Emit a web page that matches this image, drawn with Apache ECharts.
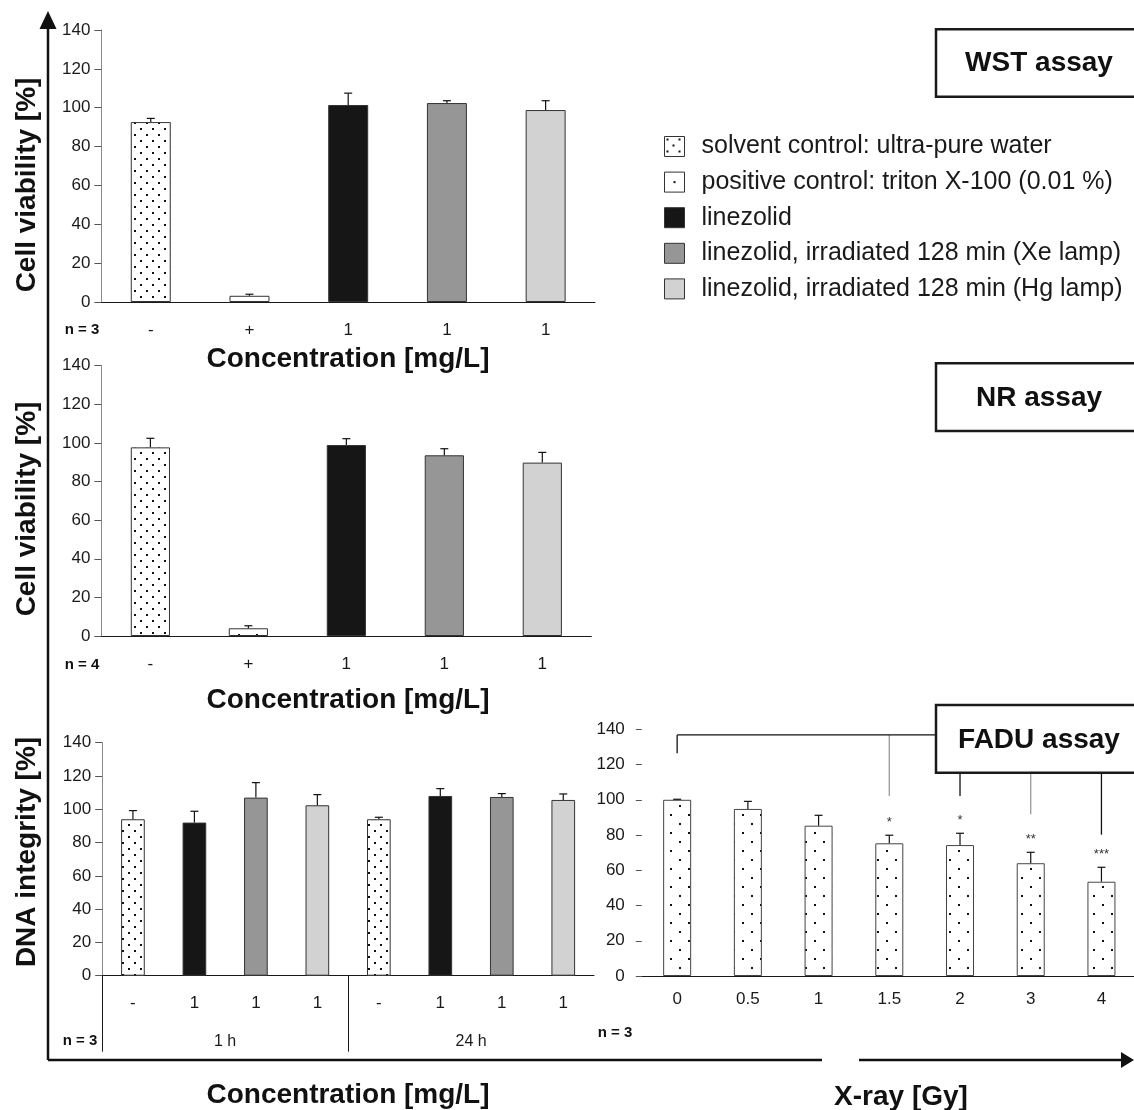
<!DOCTYPE html>
<html>
<head>
<meta charset="utf-8">
<script src="https://cdn.jsdelivr.net/npm/echarts@6/dist/echarts.min.js"></script>
<style>
html, body { margin: 0; padding: 0; background: #fff; }
#chart { width: 1134px; height: 1110px; }
</style>
</head>
<body>
<div id="chart"></div>
<script>
// legend groups
var groupNames = [
  'solvent control: ultra-pure water',
  'positive control: triton X-100 (0.01 %)',
  'linezolid',
  'linezolid, irradiated 128 min (Xe lamp)',
  'linezolid, irradiated 128 min (Hg lamp)'
];

// WST assay
var wstLabels = ['-', '+', '1', '1', '1'];
var wstGroup = [0, 1, 2, 3, 4];
var wstMean = [92.6, 3.2, 101.4, 102.4, 98.8];
var wstSd = [1.9, 0.8, 6.1, 1.2, 4.8];

// NR assay
var nrLabels = ['-', '+', '1', '1', '1'];
var nrGroup = [0, 1, 2, 3, 4];
var nrMean = [97.7, 4.0, 98.9, 93.6, 89.8];
var nrSd = [4.7, 1.3, 3.3, 3.4, 5.3];

// FADU assay, linezolid
var faduLabels = ['-', '1', '1', '1', '-', '1', '1', '1'];
var faduGroup = [0, 2, 3, 4, 0, 2, 3, 4];
var faduMean = [94.0, 92.0, 107.0, 102.4, 94.0, 108.0, 107.4, 105.6];
var faduSd = [5.2, 6.8, 9.0, 6.4, 1.2, 4.4, 2.0, 3.6];
var timeLabels = ['1 h', '24 h'];
var timeSpan = [[0, 4], [4, 8]];

// FADU assay, X-ray
var doseLabels = ['0', '0.5', '1', '1.5', '2', '3', '4'];
var doseMean = [100, 94.8, 85.3, 75.3, 74.3, 64.0, 53.5];
var doseSd = [0.3, 4.3, 5.9, 4.6, 6.7, 6.2, 8.2];
var doseStars = ['', '', '', '*', '*', '**', '***'];
var bracketLevel = 136.8;
var bracketDrops = [[0, 126.4], [3, 102.2], [4, 102.2], [5, 91.8], [6, 80.2]];
var bracketColors = ['#111', '#9a9a9a', '#111', '#9a9a9a', '#111'];

var FONT = '"Liberation Sans", Arial, Helvetica, sans-serif';
var INK = '#1a1a1a';

function dots(tile, pts) {
  var c = document.createElement('canvas');
  c.width = tile; c.height = tile;
  var g = c.getContext('2d');
  g.fillStyle = '#fff';
  g.fillRect(0, 0, tile, tile);
  g.fillStyle = '#111';
  pts.forEach(function (p) { g.fillRect(p[0], p[1], 2, 2); });
  return c;
}
var dense = { image: dots(12, [[2, 2], [8, 8]]), repeat: 'repeat' };
var sparse = { image: dots(18, [[4, 4], [13, 13]]), repeat: 'repeat' };
var single = { image: dots(20, [[9, 9]]), repeat: 'repeat' };
var fills = [dense, sparse, '#161616', '#969696', '#d2d2d2'];

var chart = echarts.init(document.getElementById('chart'));

function catAxis(grid, labels, tickLen, margin) {
  return {
    type: 'category', gridIndex: grid, data: labels,
    axisLine: { lineStyle: { color: INK, width: 1 } },
    axisTick: { length: tickLen, lineStyle: { color: INK } },
    axisLabel: { color: INK, fontSize: 17, fontFamily: FONT, margin: margin, interval: 0 },
    splitLine: { show: false }
  };
}

function valAxis(grid, showLine, margin, tickLen) {
  return {
    type: 'value', gridIndex: grid, min: 0, max: 140, interval: 20,
    axisLine: { show: showLine, lineStyle: { color: '#8a8a8a' } },
    axisTick: { show: true, length: tickLen, lineStyle: { color: '#555' } },
    axisLabel: { color: INK, fontSize: 17, fontFamily: FONT, margin: margin },
    splitLine: { show: false }
  };
}

function errSeries(g, means, sds) {
  return {
    type: 'custom', xAxisIndex: g, yAxisIndex: g, z: 5, silent: true,
    data: means.map(function (v, i) { return [i, v, v + sds[i]]; }),
    renderItem: function (params, api) {
      var p0 = api.coord([api.value(0), api.value(1)]);
      var p1 = api.coord([api.value(0), api.value(2)]);
      var st = { stroke: '#111', lineWidth: 1.2 };
      return {
        type: 'group', children: [
          { type: 'line', shape: { x1: p0[0], y1: p0[1], x2: p1[0], y2: p1[1] }, style: st },
          { type: 'line', shape: { x1: p1[0] - 4, y1: p1[1], x2: p1[0] + 4, y2: p1[1] }, style: st }
        ]
      };
    }
  };
}

function barSeries(g, means, groups, width) {
  var out = [];
  for (var k = 0; k < groupNames.length; k++) {
    if (groups.indexOf(k) < 0) continue;
    out.push({
      type: 'bar', name: groupNames[k], xAxisIndex: g, yAxisIndex: g,
      barWidth: width, barGap: '-100%',
      itemStyle: { color: fills[k], borderColor: '#333', borderWidth: 1 },
      data: means.map(function (v, i) { return groups[i] === k ? v : '-'; })
    });
  }
  return out;
}

var series = [].concat(
  barSeries(0, wstMean, wstGroup, '40.5%'), [errSeries(0, wstMean, wstSd)],
  barSeries(1, nrMean, nrGroup, '40%'), [errSeries(1, nrMean, nrSd)],
  barSeries(2, faduMean, faduGroup, '38.5%'), [errSeries(2, faduMean, faduSd)],
  [{
    type: 'bar', name: 'X-ray', xAxisIndex: 3, yAxisIndex: 3, barWidth: '39.6%',
    itemStyle: { color: sparse, borderColor: '#444', borderWidth: 1 },
    data: doseMean
  }, errSeries(3, doseMean, doseSd), {
    type: 'custom', xAxisIndex: 3, yAxisIndex: 3, z: 6, silent: true,
    data: doseMean.map(function (v, i) { return [i, v + doseSd[i]]; }),
    renderItem: function (params, api) {
      var s = doseStars[params.dataIndex];
      if (!s) return;
      var p = api.coord([api.value(0), api.value(1)]);
      return { type: 'text', x: p[0], y: p[1] - 6,
        style: { text: s, fill: '#333', font: '13px ' + FONT, align: 'center', verticalAlign: 'bottom' } };
    }
  }, {
    type: 'line', xAxisIndex: 3, yAxisIndex: 3, silent: true, symbol: 'none', z: 1,
    lineStyle: { color: '#111', width: 1.3 },
    data: [[bracketDrops[0][0], bracketLevel], [bracketDrops[bracketDrops.length - 1][0], bracketLevel]]
  }, {
    type: 'custom', xAxisIndex: 3, yAxisIndex: 3, silent: true, z: 1,
    data: bracketDrops,
    renderItem: function (params, api) {
      var a = api.coord([api.value(0), bracketLevel]);
      var b = api.coord([api.value(0), api.value(1)]);
      return { type: 'line', shape: { x1: a[0], y1: a[1], x2: b[0], y2: b[1] },
        style: { stroke: bracketColors[params.dataIndex], lineWidth: 1.3 } };
    }
  }]
);

function txt(x, y, s, font, rot) {
  return { type: 'text', x: x, y: y, z: 100, rotation: rot || 0,
    style: { text: s, font: font, fill: '#111', align: 'center', verticalAlign: 'middle' } };
}
var TITLE = 'bold 28px ' + FONT;
var BOX = 'bold 28px ' + FONT;
var NLAB = 'bold 15px ' + FONT;

var option = {
  backgroundColor: '#fff',
  animation: false,
  grid: [
    { left: 101.4, top: 30, width: 493.6, height: 272, outerBoundsMode: 'none' },
    { left: 101.4, top: 365.7, width: 489.9, height: 270.3, outerBoundsMode: 'none' },
    { left: 102.2, top: 742.7, width: 491.8, height: 233, outerBoundsMode: 'none' },
    { left: 641.8, top: 729.3, width: 495, height: 246.7, outerBoundsMode: 'none' }
  ],
  xAxis: [
    catAxis(0, wstLabels, 6, 20),
    catAxis(1, nrLabels, 6, 20),
    catAxis(2, faduLabels, 38, 19),
    catAxis(3, doseLabels, 5, 15),
    {
      type: 'value', gridIndex: 2, position: 'bottom', min: 0, max: 8,
      axisLine: { show: false }, splitLine: { show: false },
      axisTick: { show: true, length: 76, lineStyle: { color: INK },
        customValues: timeSpan.map(function (s) { return s[0]; }) },
      axisLabel: {
        color: INK, fontSize: 16, fontFamily: FONT, margin: 58,
        customValues: timeSpan.map(function (s) { return (s[0] + s[1]) / 2; }),
        formatter: function (v) {
          for (var i = 0; i < timeSpan.length; i++) {
            if ((timeSpan[i][0] + timeSpan[i][1]) / 2 === v) return timeLabels[i];
          }
          return '';
        }
      }
    }
  ],
  yAxis: [
    valAxis(0, true, 11, 7),
    valAxis(1, true, 11, 7),
    valAxis(2, true, 11, 7),
    valAxis(3, false, 17, 6)
  ],
  legend: {
    orient: 'vertical', left: 664, top: 134, padding: 0,
    itemWidth: 20, itemHeight: 20, itemGap: 10.6, icon: 'rect', selectedMode: false,
    itemStyle: { borderColor: '#333', borderWidth: 1 },
    textStyle: { fontSize: 25, fontFamily: FONT, color: INK, padding: [0, 0, 0, 12] },
    data: groupNames.map(function (n, k) {
      return k === 1 ? { name: n, itemStyle: { color: single } } : { name: n };
    })
  },
  graphic: [
    // frame axes with arrows
    { type: 'line', z: 100, shape: { x1: 48, y1: 26, x2: 48, y2: 1060 }, style: { stroke: '#111', lineWidth: 2.5 } },
    { type: 'polygon', z: 100, shape: { points: [[48, 11], [39.5, 29], [56.5, 29]] }, style: { fill: '#111' } },
    { type: 'line', z: 100, shape: { x1: 48, y1: 1060, x2: 822, y2: 1060 }, style: { stroke: '#111', lineWidth: 2.5 } },
    { type: 'line', z: 100, shape: { x1: 859, y1: 1060, x2: 1124, y2: 1060 }, style: { stroke: '#111', lineWidth: 2.5 } },
    { type: 'polygon', z: 100, shape: { points: [[1134, 1060], [1121, 1052], [1121, 1068]] }, style: { fill: '#111' } },
    // assay boxes
    { type: 'rect', z: 100, shape: { x: 936, y: 29.3, width: 220, height: 67.4 }, style: { fill: '#fff', stroke: INK, lineWidth: 2.5 } },
    txt(1039, 63, 'WST assay', BOX),
    { type: 'rect', z: 100, shape: { x: 936, y: 363.3, width: 220, height: 67.7 }, style: { fill: '#fff', stroke: INK, lineWidth: 2.5 } },
    txt(1039, 398, 'NR assay', BOX),
    { type: 'rect', z: 100, shape: { x: 936, y: 705, width: 220, height: 67.7 }, style: { fill: '#fff', stroke: INK, lineWidth: 2.5 } },
    txt(1039, 740, 'FADU assay', BOX),
    // axis titles
    txt(27, 185, 'Cell viability [%]', BOX, Math.PI / 2),
    txt(27, 509, 'Cell viability [%]', BOX, Math.PI / 2),
    txt(27, 852, 'DNA integrity [%]', BOX, Math.PI / 2),
    txt(348, 359, 'Concentration [mg/L]', TITLE),
    txt(348, 700, 'Concentration [mg/L]', TITLE),
    txt(348, 1095, 'Concentration [mg/L]', TITLE),
    txt(901, 1097, 'X-ray [Gy]', TITLE),
    // sample sizes
    txt(82, 330, 'n = 3', NLAB),
    txt(82, 665, 'n = 4', NLAB),
    txt(80, 1041, 'n = 3', NLAB),
    txt(615, 1033, 'n = 3', NLAB)
  ],
  series: series
};

chart.setOption(option);
</script>
</body>
</html>
